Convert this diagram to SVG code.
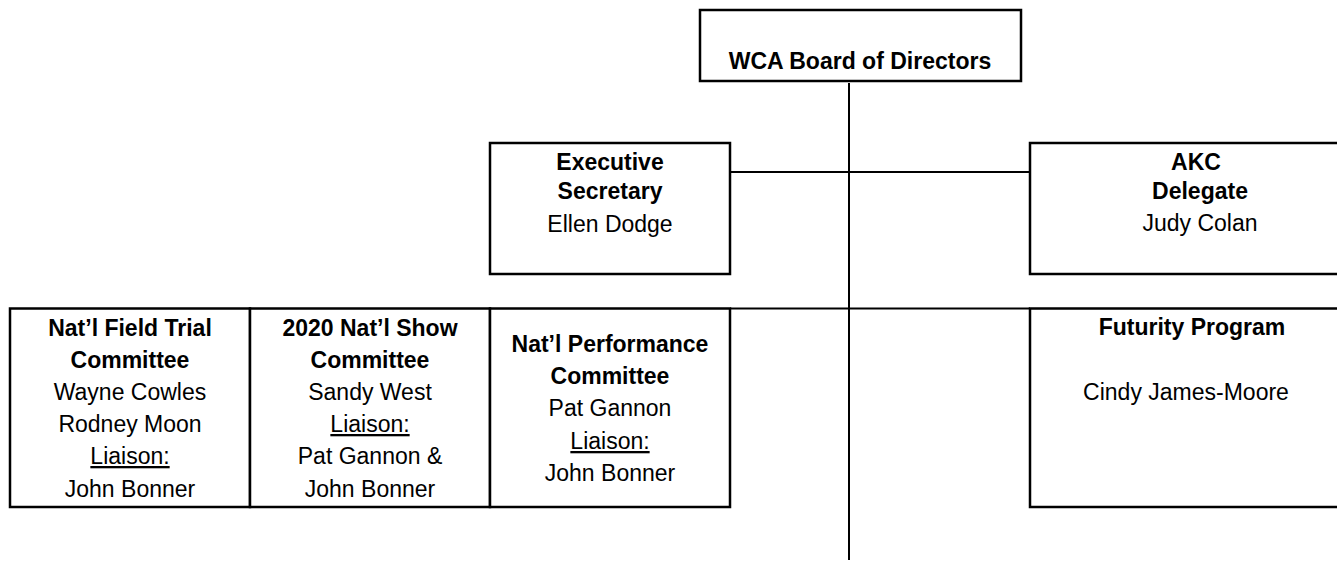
<svg xmlns="http://www.w3.org/2000/svg" width="1337" height="563" viewBox="0 0 1337 563">
<style>
.box{fill:#fff;stroke:#000;stroke-width:2.5}
.ln{stroke:#000;stroke-width:2;fill:none}
text{font-family:"Liberation Sans",Arial,sans-serif;font-size:23px;fill:#000;text-anchor:middle}
.b{font-weight:bold}
.u{text-decoration:underline}
</style>
<rect width="1337" height="563" fill="#fff"/>
<g id="connectors">
<line class="ln" x1="849" y1="83" x2="849" y2="560"/>
<line class="ln" x1="730" y1="172" x2="1030" y2="172"/>
<line class="ln" x1="730" y1="308.5" x2="1030" y2="308.5"/>
</g>
<g id="board">
<rect class="box" x="700" y="10" width="321" height="71"/>
<text class="b" x="860" y="69">WCA Board of Directors</text>
</g>
<g id="exec">
<rect class="box" x="490" y="143" width="240" height="131"/>
<text class="b" x="610" y="170">Executive</text>
<text class="b" x="610" y="199">Secretary</text>
<text x="610" y="232">Ellen Dodge</text>
</g>
<g id="akc">
<rect class="box" x="1030" y="143" width="340" height="131"/>
<text class="b" x="1196" y="170">AKC</text>
<text class="b" x="1200" y="199">Delegate</text>
<text x="1200" y="231">Judy Colan</text>
</g>
<g id="fieldtrial">
<rect class="box" x="10" y="308.5" width="240" height="198.5"/>
<text class="b" x="130" y="336">Nat’l Field Trial</text>
<text class="b" x="130" y="368">Committee</text>
<text x="130" y="400">Wayne Cowles</text>
<text x="130" y="432">Rodney Moon</text>
<text class="u" x="130" y="464">Liaison:</text>
<text x="130" y="497">John Bonner</text>
</g>
<g id="show">
<rect class="box" x="250" y="308.5" width="240" height="198.5"/>
<text class="b" x="370" y="336">2020 Nat’l Show</text>
<text class="b" x="370" y="368">Committee</text>
<text x="370" y="400">Sandy West</text>
<text class="u" x="370" y="432">Liaison:</text>
<text x="370" y="464">Pat Gannon &amp;</text>
<text x="370" y="497">John Bonner</text>
</g>
<g id="performance">
<rect class="box" x="490" y="308.5" width="240" height="198.5"/>
<text class="b" x="610" y="352">Nat’l Performance</text>
<text class="b" x="610" y="384">Committee</text>
<text x="610" y="416">Pat Gannon</text>
<text class="u" x="610" y="449">Liaison:</text>
<text x="610" y="481">John Bonner</text>
</g>
<g id="futurity">
<rect class="box" x="1030" y="308.5" width="340" height="198.5"/>
<text class="b" x="1192" y="335">Futurity Program</text>
<text x="1186" y="400">Cindy James-Moore</text>
</g>
</svg>
